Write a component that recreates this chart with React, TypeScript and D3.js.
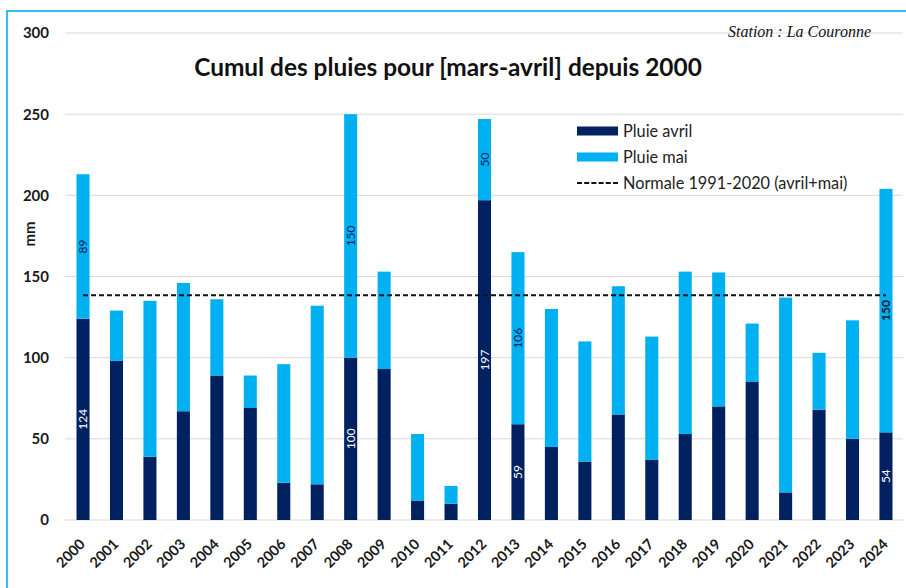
import React, { useEffect, useRef } from 'react';
import * as d3 from 'd3';

// Cumulative rainfall (mm), La Couronne station
const years = [
  '2000', '2001', '2002', '2003', '2004', '2005', '2006', '2007', '2008', '2009',
  '2010', '2011', '2012', '2013', '2014', '2015', '2016', '2017', '2018', '2019',
  '2020', '2021', '2022', '2023', '2024'
];
const pluieAvril = [124, 98, 39, 67, 89, 69, 23, 22, 100, 93, 12, 10, 197, 59, 45, 36, 65, 37, 53, 70, 85, 17, 68, 50, 54];
const pluieMai = [89, 31, 96, 79, 47, 20, 73, 110, 150, 60, 41, 11, 50, 106, 85, 74, 79, 76, 100, 82.5, 36, 120, 35, 73, 150];
const normale = 138.5;
const yTicks = [0, 50, 100, 150, 200, 250, 300];

// years with values written on the bars
const labelledAvril = ['2000', '2008', '2012', '2013', '2024'];
const labelledMai = ['2000', '2008', '2012', '2013', '2024'];

const W = 906;
const H = 588;
const DARK = '#002060';
const LIGHT = '#00B0F0';
const FONT = 'Lato, "Open Sans", sans-serif';

export default function App() {
  const svgRef = useRef<SVGSVGElement>(null);

  useEffect(() => {
    document.body.style.margin = '0';
    if (!svgRef.current) return;
    const svg = d3.select(svgRef.current);
    svg.selectAll('*').remove();

    const x = d3.scaleBand<string>()
      .domain(years)
      .range([66.3, 902.7])
      .paddingInner(0.61)
      .paddingOuter(0.305);

    const y = d3.scaleLinear()
      .domain([0, 300])
      .range([520, 33]);

    // frame
    svg.append('rect')
      .attr('x', 7)
      .attr('y', 11)
      .attr('width', W)
      .attr('height', H)
      .attr('fill', 'white')
      .attr('stroke', LIGHT)
      .attr('stroke-width', 1.6);

    // grid lines
    svg.append('g')
      .selectAll('line')
      .data(yTicks)
      .join('line')
      .attr('x1', 65)
      .attr('x2', 903)
      .attr('y1', d => y(d))
      .attr('y2', d => y(d))
      .attr('stroke', '#d9d9d9')
      .attr('stroke-width', 1);

    // y tick labels
    svg.append('g')
      .selectAll('text')
      .data(yTicks)
      .join('text')
      .attr('x', 49)
      .attr('y', d => y(d))
      .attr('dy', '0.36em')
      .attr('text-anchor', 'end')
      .attr('font-family', FONT)
      .attr('font-weight', 'bold')
      .attr('font-size', 15)
      .attr('fill', '#1a1a1a')
      .text(d => d);

    svg.append('text')
      .attr('transform', 'translate(30,234) rotate(-90)')
      .attr('dy', '0.35em')
      .attr('text-anchor', 'middle')
      .attr('font-family', FONT)
      .attr('font-weight', 'bold')
      .attr('font-size', 15)
      .attr('fill', '#1a1a1a')
      .text('mm');

    const rows = years.map((yr, i) => ({ yr, avril: pluieAvril[i], mai: pluieMai[i] }));
    const bw = x.bandwidth();

    // stacked bars
    svg.append('g')
      .selectAll('rect')
      .data(rows)
      .join('rect')
      .attr('x', d => x(d.yr)!)
      .attr('width', bw)
      .attr('y', d => y(d.avril))
      .attr('height', d => y(0) - y(d.avril))
      .attr('fill', DARK);

    svg.append('g')
      .selectAll('rect')
      .data(rows)
      .join('rect')
      .attr('x', d => x(d.yr)!)
      .attr('width', bw)
      .attr('y', d => y(d.avril + d.mai))
      .attr('height', d => y(d.avril) - y(d.avril + d.mai))
      .attr('fill', LIGHT);

    // value labels (rotated)
    svg.append('g')
      .selectAll('text')
      .data(rows.filter(d => labelledAvril.includes(d.yr)))
      .join('text')
      .attr('transform', d => `translate(${x(d.yr)! + bw / 2},${y(d.avril / 2)}) rotate(-90)`)
      .attr('dy', '0.35em')
      .attr('text-anchor', 'middle')
      .attr('font-family', FONT)
      .attr('font-size', 12)
      .attr('fill', 'white')
      .text(d => d.avril);

    svg.append('g')
      .selectAll('text')
      .data(rows.filter(d => labelledMai.includes(d.yr)))
      .join('text')
      .attr('transform', d => `translate(${x(d.yr)! + bw / 2},${y(d.avril + d.mai / 2)}) rotate(-90)`)
      .attr('dy', '0.35em')
      .attr('text-anchor', 'middle')
      .attr('font-family', FONT)
      .attr('font-size', 12)
      .attr('font-weight', d => (d.yr === '2024' ? 'bold' : 'normal'))
      .attr('fill', d => (d.yr === '2024' ? '#0d1b33' : DARK))
      .text(d => d.mai);

    // normal line
    svg.append('line')
      .attr('x1', x(years[0])! + bw / 2)
      .attr('x2', x(years[years.length - 1])! + bw / 2)
      .attr('y1', y(normale))
      .attr('y2', y(normale))
      .attr('stroke', '#111')
      .attr('stroke-width', 2)
      .attr('stroke-dasharray', '5,3');

    // x axis labels
    svg.append('g')
      .selectAll('text')
      .data(years)
      .join('text')
      .attr('transform', d => `translate(${x(d)! + bw / 2 + 3},545) rotate(-45)`)
      .attr('text-anchor', 'end')
      .attr('font-family', FONT)
      .attr('font-weight', 'bold')
      .attr('font-size', 14.5)
      .attr('fill', '#1a1a1a')
      .text(d => d);

    // title
    svg.append('text')
      .attr('x', 448)
      .attr('y', 76)
      .attr('text-anchor', 'middle')
      .attr('font-family', FONT)
      .attr('font-weight', 'bold')
      .attr('font-size', 24.4)
      .attr('fill', '#111')
      .text('Cumul des pluies pour [mars-avril] depuis 2000');

    svg.append('text')
      .attr('x', 871)
      .attr('y', 37)
      .attr('text-anchor', 'end')
      .attr('font-family', '"Liberation Serif", "DejaVu Serif", serif')
      .attr('font-style', 'italic')
      .attr('font-size', 16)
      .attr('fill', '#111')
      .text('Station : La Couronne');

    // legend
    const legend = svg.append('g').attr('transform', 'translate(577,0)');
    const items = [
      { label: 'Pluie avril', color: DARK, cy: 131 },
      { label: 'Pluie mai', color: LIGHT, cy: 157 },
      { label: 'Normale 1991-2020 (avril+mai)', color: null, cy: 183 }
    ];
    items.forEach(it => {
      if (it.color) {
        legend.append('rect')
          .attr('x', 0)
          .attr('y', it.cy - 4.5)
          .attr('width', 41)
          .attr('height', 9)
          .attr('fill', it.color);
      } else {
        legend.append('line')
          .attr('x1', 0)
          .attr('x2', 41)
          .attr('y1', it.cy)
          .attr('y2', it.cy)
          .attr('stroke', '#111')
          .attr('stroke-width', 2)
          .attr('stroke-dasharray', '5,2.2');
      }
      legend.append('text')
        .attr('x', 46)
        .attr('y', it.cy)
        .attr('dy', '0.35em')
        .attr('font-family', FONT)
        .attr('font-size', 16.3)
        .attr('fill', '#222')
        .text(it.label);
    });
  }, []);

  return (
    <svg ref={svgRef} width={W} height={H} style={{ display: 'block', background: 'white' }} />
  );
}
